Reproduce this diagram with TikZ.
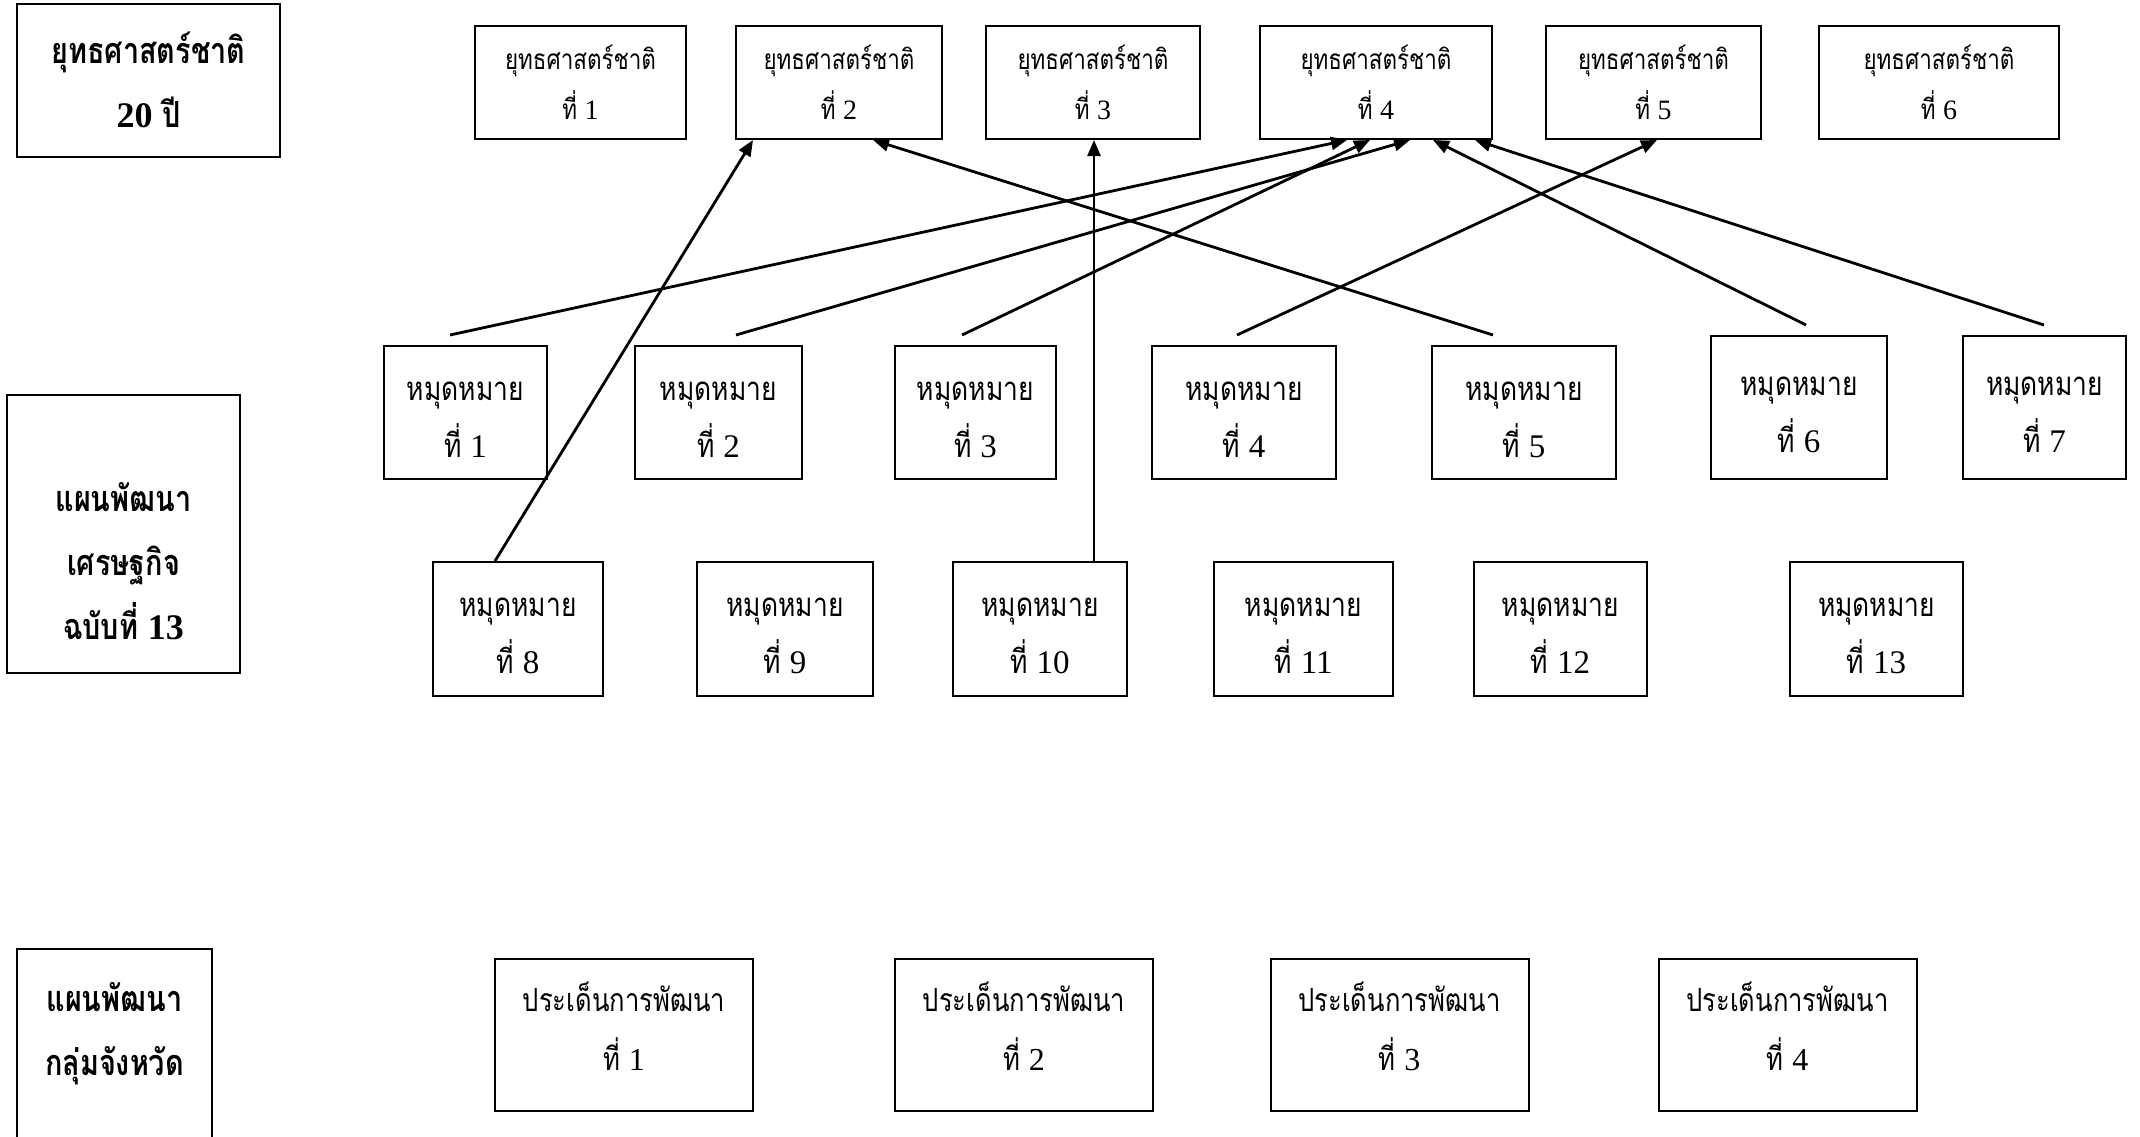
\documentclass[tikz,border=0pt]{standalone}
\usepackage{fontspec}
\setmainfont{Liberation Serif}
\newfontfamily\thai[Script=Thai,FakeStretch=0.8]{Loma}
\usetikzlibrary{arrows.meta}
\begin{document}
\begin{tikzpicture}[x=1pt,y=-1pt,
  box/.style={draw, line width=2pt, inner sep=0pt, align=center},
  strat/.style={box, minimum height=113pt, font=\thai\fontsize{28}{50}\selectfont},
  goal/.style={box},
  gtxt/.style={align=center, inner sep=0pt, yshift=-7pt, font=\thai\fontsize{33}{57}\selectfont},
  issue/.style={box, minimum height=152pt, minimum width=258pt},
  itxt/.style={align=center, inner sep=0pt, yshift=9pt, font=\thai\fontsize{32}{59}\selectfont},
  head/.style={align=center, inner sep=0pt, font=\thai\bfseries\fontsize{36}{64}\selectfont},
  arr/.style={-{Triangle[length=16pt,width=13pt]}, line width=2.8pt}]
\fill[white] (0,0) rectangle (2140,1136);
\useasboundingbox (0,0) rectangle (2140,1136);
\clip (0,0) rectangle (2140,1136);
% left headings
\node[box, head, minimum width=263pt, minimum height=153pt] (t1) at (148.5,80) {ยุทธศาสตร์ชาติ\\{\rmfamily 20} ปี};
\node[box, minimum width=233pt, minimum height=278pt] (p2box) at (123.5,534) {};
\node[head] (p2) at (123.5,561) {แผนพัฒนา\\เศรษฐกิจ\\ฉบับที่ {\rmfamily 13}};
\node[box, minimum width=195pt, minimum height=202pt] (p3box) at (114.5,1050) {};
\node[head] (p3) at (114.5,1033.5) {แผนพัฒนา\\กลุ่มจังหวัด};
% strategies
\node[strat, minimum width=211pt] (s1) at (580.5,82.5) {ยุทธศาสตร์ชาติ\\ที่ {\rmfamily 1}};
\node[strat, minimum width=206pt] (s2) at (839,82.5) {ยุทธศาสตร์ชาติ\\ที่ {\rmfamily 2}};
\node[strat, minimum width=214pt] (s3) at (1093,82.5) {ยุทธศาสตร์ชาติ\\ที่ {\rmfamily 3}};
\node[strat, minimum width=232pt] (s4) at (1376,82.5) {ยุทธศาสตร์ชาติ\\ที่ {\rmfamily 4}};
\node[strat, minimum width=215pt] (s5) at (1653.5,82.5) {ยุทธศาสตร์ชาติ\\ที่ {\rmfamily 5}};
\node[strat, minimum width=240pt] (s6) at (1939,82.5) {ยุทธศาสตร์ชาติ\\ที่ {\rmfamily 6}};
% goals row 1
\node[goal, minimum width=163pt, minimum height=133pt, label={[gtxt]center:หมุดหมาย\\ที่ {\rmfamily 1}}] (g1) at (465.5,412.5) {};
\node[goal, minimum width=167pt, minimum height=133pt, label={[gtxt]center:หมุดหมาย\\ที่ {\rmfamily 2}}] (g2) at (718.5,412.5) {};
\node[goal, minimum width=161pt, minimum height=133pt, label={[gtxt]center:หมุดหมาย\\ที่ {\rmfamily 3}}] (g3) at (975.5,412.5) {};
\node[goal, minimum width=184pt, minimum height=133pt, label={[gtxt]center:หมุดหมาย\\ที่ {\rmfamily 4}}] (g4) at (1244,412.5) {};
\node[goal, minimum width=184pt, minimum height=133pt, label={[gtxt]center:หมุดหมาย\\ที่ {\rmfamily 5}}] (g5) at (1524,412.5) {};
\node[goal, minimum width=176pt, minimum height=143pt, label={[gtxt]center:หมุดหมาย\\ที่ {\rmfamily 6}}] (g6) at (1799,407.5) {};
\node[goal, minimum width=163pt, minimum height=143pt, label={[gtxt]center:หมุดหมาย\\ที่ {\rmfamily 7}}] (g7) at (2044.5,407.5) {};
% goals row 2
\node[goal, minimum width=170pt, minimum height=134pt, label={[gtxt]center:หมุดหมาย\\ที่ {\rmfamily 8}}] (g8) at (518,629) {};
\node[goal, minimum width=176pt, minimum height=134pt, label={[gtxt]center:หมุดหมาย\\ที่ {\rmfamily 9}}] (g9) at (785,629) {};
\node[goal, minimum width=174pt, minimum height=134pt, label={[gtxt]center:หมุดหมาย\\ที่ {\rmfamily 10}}] (g10) at (1040,629) {};
\node[goal, minimum width=179pt, minimum height=134pt, label={[gtxt]center:หมุดหมาย\\ที่ {\rmfamily 11}}] (g11) at (1303.5,629) {};
\node[goal, minimum width=173pt, minimum height=134pt, label={[gtxt]center:หมุดหมาย\\ที่ {\rmfamily 12}}] (g12) at (1560.5,629) {};
\node[goal, minimum width=173pt, minimum height=134pt, label={[gtxt]center:หมุดหมาย\\ที่ {\rmfamily 13}}] (g13) at (1876.5,629) {};
% issues
\node[issue, label={[itxt]center:ประเด็นการพัฒนา\\ที่ {\rmfamily 1}}] (i1) at (624,1035) {};
\node[issue, label={[itxt]center:ประเด็นการพัฒนา\\ที่ {\rmfamily 2}}] (i2) at (1024,1035) {};
\node[issue, label={[itxt]center:ประเด็นการพัฒนา\\ที่ {\rmfamily 3}}] (i3) at (1399.5,1035) {};
\node[issue, label={[itxt]center:ประเด็นการพัฒนา\\ที่ {\rmfamily 4}}] (i4) at (1787.5,1035) {};
% connectors
\draw[arr] ([xshift=-15.5pt,yshift=10pt]g1.north) -- ([xshift=-29pt]s4.south);
\draw[arr] ([xshift=17.5pt,yshift=10pt]g2.north) -- ([xshift=34pt]s4.south);
\draw[arr] ([xshift=-13.5pt,yshift=10pt]g3.north) -- ([xshift=-6pt]s4.south);
\draw[arr] ([xshift=-7pt,yshift=10pt]g4.north) -- ([xshift=3.5pt]s5.south);
\draw[arr] ([xshift=-31pt,yshift=10pt]g5.north) -- ([xshift=34pt]s2.south);
\draw[arr] ([xshift=7pt,yshift=10pt]g6.north) -- ([xshift=57pt]s4.south);
\draw[arr] ([xshift=-0.5pt,yshift=10pt]g7.north) -- ([xshift=99pt]s4.south);
\draw[arr] ([xshift=-23pt]g8.north) -- ([xshift=-86pt]s2.south);
\draw[arr, line width=2.4pt] ([xshift=54pt]g10.north) -- ([xshift=1pt]s3.south);
\end{tikzpicture}
\end{document}
